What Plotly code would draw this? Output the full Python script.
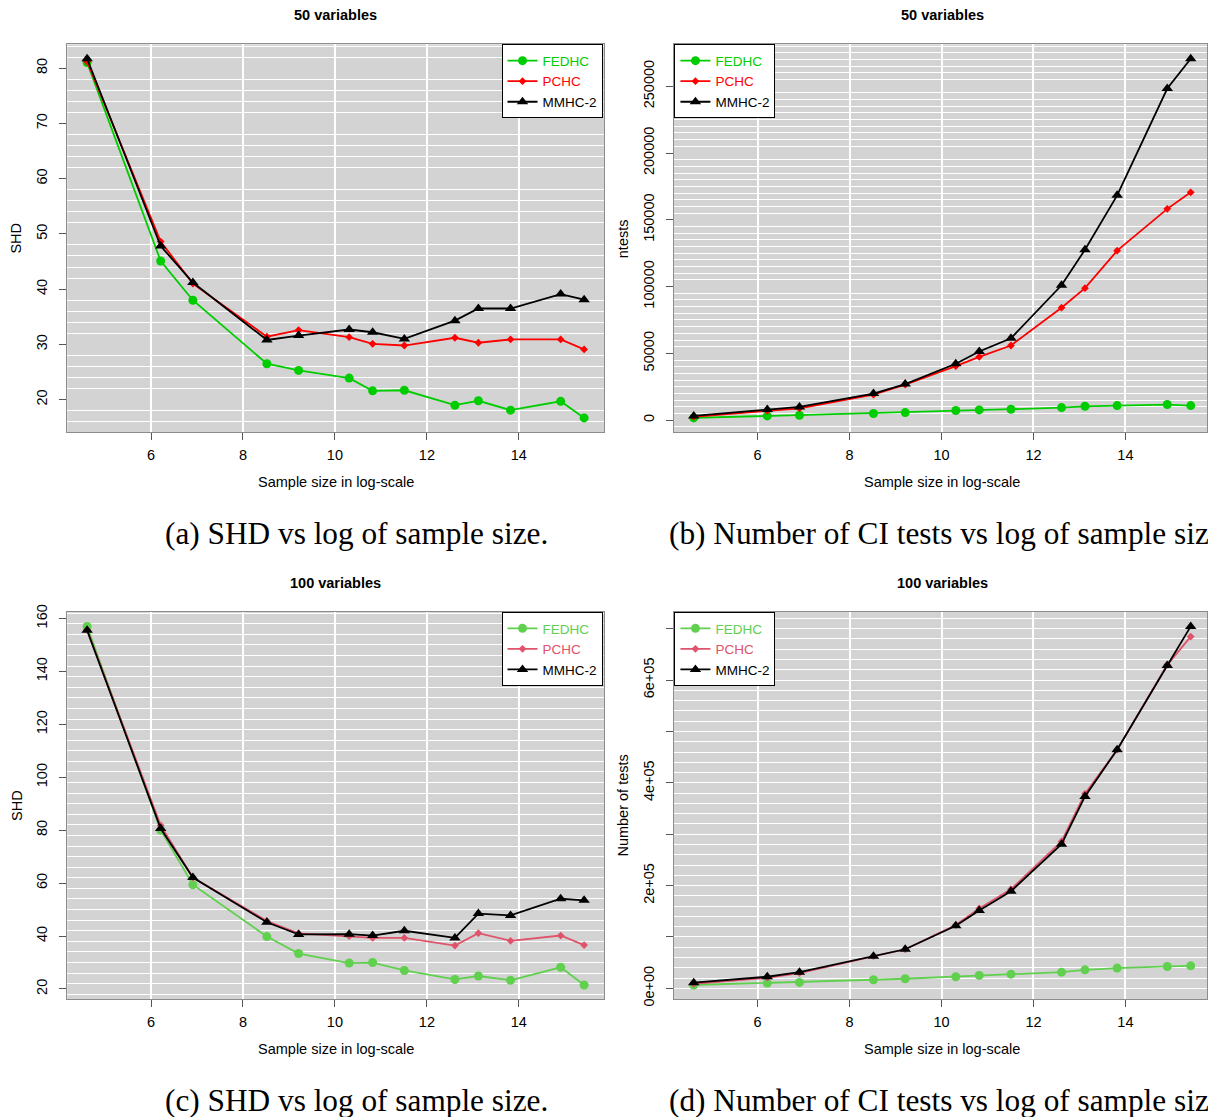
import plotly.graph_objects as go

# ---------------- data ----------------
x_log = [4.61, 6.21, 6.91, 8.52, 9.21, 10.31, 10.82, 11.51, 12.61, 13.12, 13.82, 14.91, 15.42]

shd50_fedhc = [81.0, 45.1, 38.0, 26.5, 25.3, 23.9, 21.6, 21.7, 19.0, 19.8, 18.1, 19.7, 16.7]
shd50_pchc = [81.2, 48.6, 41.0, 31.4, 32.6, 31.3, 30.1, 29.8, 31.2, 30.3, 30.9, 30.9, 29.1]
shd50_mmhc = [81.7, 47.8, 41.2, 30.8, 31.6, 32.7, 32.2, 31.0, 34.3, 36.5, 36.5, 39.1, 38.1]

tests50_fedhc = [1700, 3200, 3700, 5000, 5700, 7200, 7700, 8200, 9400, 10400, 10900, 11700, 10900]
tests50_pchc = [2500, 7000, 8900, 19100, 26600, 40500, 47400, 55900, 84200, 98800, 126900, 158200, 170600]
tests50_mmhc = [3200, 7900, 9900, 19900, 27000, 42200, 51400, 61300, 101000, 127600, 168300, 248300, 270600]

shd100_fedhc = [157.0, 80.0, 59.4, 39.8, 33.4, 29.8, 30.0, 27.0, 23.6, 24.9, 23.3, 28.2, 21.5]
shd100_pchc = [155.7, 81.8, 62.1, 45.7, 41.0, 40.0, 39.3, 39.3, 36.4, 41.1, 38.2, 40.2, 36.6]
shd100_mmhc = [155.5, 80.6, 62.1, 45.2, 40.6, 40.7, 40.2, 42.0, 39.3, 48.5, 47.8, 54.1, 53.5]

tests100_fedhc = [6500, 10300, 11600, 16800, 18700, 22600, 25200, 27700, 31600, 36100, 39400, 42600, 43900]
tests100_pchc = [9000, 20600, 29700, 62600, 76100, 123200, 155500, 192900, 285800, 378700, 464500, 629700, 684600]
tests100_mmhc = [11000, 22600, 31600, 62600, 76100, 121900, 151600, 189000, 280700, 373600, 464500, 628400, 704500]

series_names = ["FEDHC", "PCHC", "MMHC-2"]
panel_titles = ["50 variables", "50 variables", "100 variables", "100 variables"]
y_titles = ["SHD", "ntests", "SHD", "Number of tests"]
x_title = "Sample size in log-scale"
captions = ["(a) SHD vs log of sample size.",
            "(b) Number of CI tests vs log of sample size.",
            "(c) SHD vs log of sample size.",
            "(d) Number of CI tests vs log of sample size."]
d_tickvals = [0, 100000, 200000, 300000, 400000, 500000, 600000, 700000]
d_ticktext = ["0e+00", "", "2e+05", "", "4e+05", "", "6e+05", ""]

# ---------------- styling ----------------
W, H = 1208, 1117
FONT = "Liberation Sans, Arial, Helvetica, sans-serif"
FS = 14.5
row1_cols = ["#00CD00", "#FF0000", "#000000"]
row2_cols = ["#61D04F", "#DF536B", "#000000"]
symbols = ["circle", "diamond", "triangle-up"]
msizes = [9, 6, 10]

# vertical correction observed between page pixels and the photographed picture
Y_OFF, Y_SCL = 6.9, 0.9878


def px(x):
    return x / W


def py(y):
    return 1 - ((y - Y_OFF) / Y_SCL) / H


def rrange(vals, frac=0.04):
    lo, hi = min(vals), max(vals)
    d = (hi - lo) * frac
    return [lo - d, hi + d]


# target pixel boxes of the four plotting regions (left, top, right, bottom)
boxes = [(67.3, 43.3, 604.5, 431.7), (674.4, 43.3, W, 431.7),
         (67.3, 611.7, 604.5, 999.5), (674.4, 611.7, W, 999.5)]
full_right = 674.4 + (604.5 - 67.3)

panels = [
    ([shd50_fedhc, shd50_pchc, shd50_mmhc], row1_cols),
    ([tests50_fedhc, tests50_pchc, tests50_mmhc], row1_cols),
    ([shd100_fedhc, shd100_pchc, shd100_mmhc], row2_cols),
    ([tests100_fedhc, tests100_pchc, tests100_mmhc], row2_cols),
]
minor_dticks = [2, 5000, 4, 20000]
minor_tick0 = [0, 0, 2, 0]

fig = go.Figure()
layout = dict(width=W, height=H, margin=dict(l=0, r=0, t=0, b=0),
              paper_bgcolor="white", plot_bgcolor="#D3D3D3",
              font=dict(family=FONT, size=FS, color="black"),
              showlegend=True, annotations=[])

xr_full = rrange(x_log)

for i, ((ys, cols), box) in enumerate(zip(panels, boxes)):
    n = i + 1
    xa = "x" if n == 1 else f"x{n}"
    ya = "y" if n == 1 else f"y{n}"
    leg = "legend" if n == 1 else f"legend{n}"
    for k in range(3):
        nm = f'<span style="color:{cols[k]}">{series_names[k]}</span>'
        fig.add_trace(go.Scatter(
            x=x_log, y=ys[k], mode="lines+markers", name=nm,
            line=dict(color=cols[k], width=1.8),
            marker=dict(symbol=symbols[k], size=msizes[k], color=cols[k],
                        line=dict(width=0)),
            xaxis=xa, yaxis=ya, legend=leg, cliponaxis=False))
    l, t, r, b = box
    xr = list(xr_full)
    if r >= W:
        xr[1] = xr[0] + (xr[1] - xr[0]) * (r - l) / (full_right - l)
    allv = ys[0] + ys[1] + ys[2]
    yr = rrange(allv)
    axis_common = dict(showline=True, mirror=True, linecolor="#8C8C8C", linewidth=1,
                       ticks="outside", ticklen=7, tickcolor="#555555", tickwidth=1,
                       zeroline=False, tickfont=dict(family=FONT, size=FS, color="black"))
    xaxis = dict(domain=[px(l), px(r)], range=xr, anchor=ya,
                 tickvals=[6, 8, 10, 12, 14], showgrid=True, gridcolor="white",
                 gridwidth=2, ticklabelstandoff=2, **axis_common)
    yaxis = dict(domain=[py(b), py(t)], range=yr, anchor=xa, tickangle=-90,
                 showgrid=False, ticklabelstandoff=6, exponentformat="none",
                 separatethousands=False, tickformat="d",
                 minor=dict(dtick=minor_dticks[i], tick0=minor_tick0[i], showgrid=True,
                            gridcolor="white", gridwidth=1.2, ticks=""),
                 **axis_common)
    if i == 3:
        yaxis["tickvals"] = d_tickvals
        yaxis["ticktext"] = d_ticktext
        yaxis.pop("tickformat")
    elif i == 1:
        yaxis["dtick"] = 50000
        yaxis["tick0"] = 0
    else:
        yaxis["dtick"] = 10 if i == 0 else 20
    layout["xaxis" if n == 1 else f"xaxis{n}"] = xaxis
    layout["yaxis" if n == 1 else f"yaxis{n}"] = yaxis

    # legend
    if i in (0, 2):
        lx, xanc = px(603), "right"
    else:
        lx, xanc = px(675), "left"
    layout[leg] = dict(x=lx, xanchor=xanc, y=py(t), yanchor="top",
                       bgcolor="white", bordercolor="black", borderwidth=1,
                       font=dict(family=FONT, size=13.5, color="black"),
                       tracegroupgap=0, itemsizing="trace", itemwidth=30)

    cx = (l + full_right) / 2 if r >= W else (l + r) / 2
    # panel title
    layout["annotations"].append(dict(
        text=f"<b>{panel_titles[i]}</b>", x=px(cx), y=py(t - 29), xref="paper", yref="paper",
        showarrow=False, xanchor="center", yanchor="middle",
        font=dict(family=FONT, size=FS, color="black")))
    # x axis title
    layout["annotations"].append(dict(
        text=x_title, x=px(cx), y=py(b + 50), xref="paper", yref="paper",
        showarrow=False, xanchor="center", yanchor="middle",
        font=dict(family=FONT, size=FS, color="black")))
    # y axis title
    layout["annotations"].append(dict(
        text=y_titles[i], x=px(l - 51), y=py((t + b) / 2), xref="paper", yref="paper",
        showarrow=False, xanchor="center", yanchor="middle", textangle=-90,
        font=dict(family=FONT, size=FS, color="black")))
    # caption
    if i in (0, 2):
        cap = dict(x=px(356.5), xanchor="center")
    else:
        cap = dict(x=px(668), xanchor="left")
    layout["annotations"].append(dict(
        text=captions[i], y=py(b + 101), xref="paper", yref="paper",
        showarrow=False, yanchor="middle",
        font=dict(family="Liberation Serif, Times New Roman, serif", size=31.3, color="black"),
        **cap))

fig.update_layout(**layout)
fig.write_html("out.html", config={"displayModeBar": False},
               post_script="document.body.style.margin='0';document.body.style.overflow='hidden';")
